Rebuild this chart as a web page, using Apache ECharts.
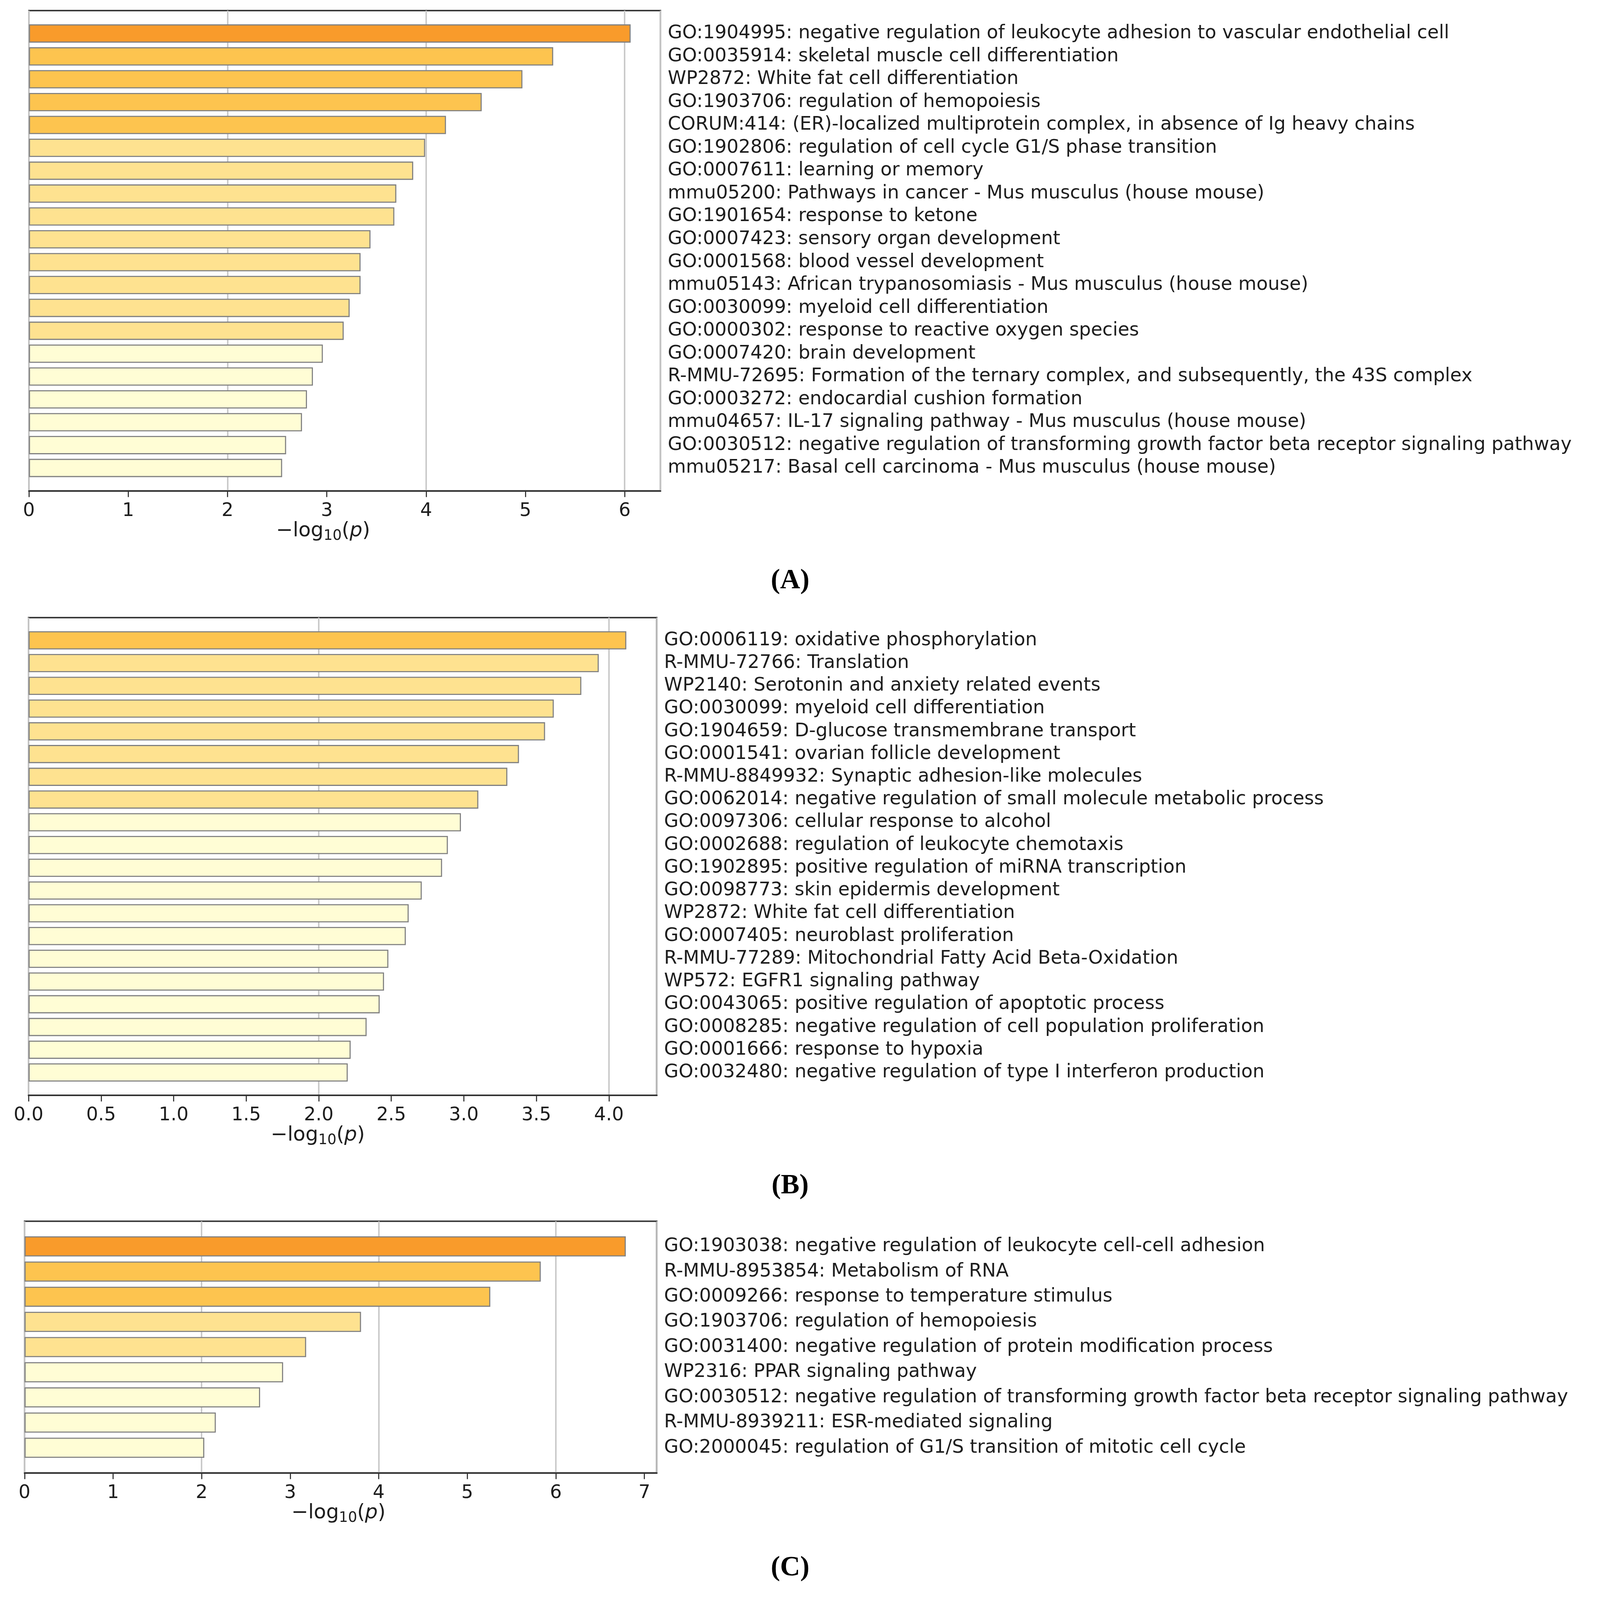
<!DOCTYPE html>
<html>
<head>
<meta charset="utf-8">
<style>
  html, body { margin: 0; padding: 0; background: #fff; overflow: hidden; }
  #main { width: 100vw; height: 100vh; }
</style>
</head>
<body>
<div id="main"></div>
<script src="https://cdn.jsdelivr.net/npm/echarts@6/dist/echarts.min.js"></script>
<script type="text/javascript">
    // panel A
    var labelsA = [
        'GO:1904995: negative regulation of leukocyte adhesion to vascular endothelial cell',
        'GO:0035914: skeletal muscle cell differentiation',
        'WP2872: White fat cell differentiation',
        'GO:1903706: regulation of hemopoiesis',
        'CORUM:414: (ER)-localized multiprotein complex, in absence of Ig heavy chains',
        'GO:1902806: regulation of cell cycle G1/S phase transition',
        'GO:0007611: learning or memory',
        'mmu05200: Pathways in cancer - Mus musculus (house mouse)',
        'GO:1901654: response to ketone',
        'GO:0007423: sensory organ development',
        'GO:0001568: blood vessel development',
        'mmu05143: African trypanosomiasis - Mus musculus (house mouse)',
        'GO:0030099: myeloid cell differentiation',
        'GO:0000302: response to reactive oxygen species',
        'GO:0007420: brain development',
        'R-MMU-72695: Formation of the ternary complex, and subsequently, the 43S complex',
        'GO:0003272: endocardial cushion formation',
        'mmu04657: IL-17 signaling pathway - Mus musculus (house mouse)',
        'GO:0030512: negative regulation of transforming growth factor beta receptor signaling pathway',
        'mmu05217: Basal cell carcinoma - Mus musculus (house mouse)'
    ];
    var valuesA = [6.06, 5.28, 4.97, 4.56, 4.20, 3.99, 3.87, 3.70, 3.68, 3.44,
                   3.34, 3.34, 3.23, 3.17, 2.96, 2.86, 2.80, 2.75, 2.59, 2.55];
    var ticksA = [0, 1, 2, 3, 4, 5, 6];

    // panel B
    var labelsB = [
        'GO:0006119: oxidative phosphorylation',
        'R-MMU-72766: Translation',
        'WP2140: Serotonin and anxiety related events',
        'GO:0030099: myeloid cell differentiation',
        'GO:1904659: D-glucose transmembrane transport',
        'GO:0001541: ovarian follicle development',
        'R-MMU-8849932: Synaptic adhesion-like molecules',
        'GO:0062014: negative regulation of small molecule metabolic process',
        'GO:0097306: cellular response to alcohol',
        'GO:0002688: regulation of leukocyte chemotaxis',
        'GO:1902895: positive regulation of miRNA transcription',
        'GO:0098773: skin epidermis development',
        'WP2872: White fat cell differentiation',
        'GO:0007405: neuroblast proliferation',
        'R-MMU-77289: Mitochondrial Fatty Acid Beta-Oxidation',
        'WP572: EGFR1 signaling pathway',
        'GO:0043065: positive regulation of apoptotic process',
        'GO:0008285: negative regulation of cell population proliferation',
        'GO:0001666: response to hypoxia',
        'GO:0032480: negative regulation of type I interferon production'
    ];
    var valuesB = [4.12, 3.93, 3.81, 3.62, 3.56, 3.38, 3.30, 3.10, 2.98, 2.89,
                   2.85, 2.71, 2.62, 2.60, 2.48, 2.45, 2.42, 2.33, 2.22, 2.20];
    var ticksB = [0, 0.5, 1, 1.5, 2, 2.5, 3, 3.5, 4];

    // panel C
    var labelsC = [
        'GO:1903038: negative regulation of leukocyte cell-cell adhesion',
        'R-MMU-8953854: Metabolism of RNA',
        'GO:0009266: response to temperature stimulus',
        'GO:1903706: regulation of hemopoiesis',
        'GO:0031400: negative regulation of protein modification process',
        'WP2316: PPAR signaling pathway',
        'GO:0030512: negative regulation of transforming growth factor beta receptor signaling pathway',
        'R-MMU-8939211: ESR-mediated signaling',
        'GO:2000045: regulation of G1/S transition of mitotic cell cycle'
    ];
    var valuesC = [6.79, 5.83, 5.26, 3.80, 3.18, 2.92, 2.66, 2.16, 2.03];
    var ticksC = [0, 1, 2, 3, 4, 5, 6, 7];

    var panelTags = ['(A)', '(B)', '(C)'];

    // metascape style colour bins on -log10(p)
    function binColor(v) {
        if (v >= 6) return '#F99B2B';
        if (v >= 4) return '#FDC44F';
        if (v >= 3) return '#FEE290';
        return '#FFFDD5';
    }

    // layout was measured on a 4342 x 4368 page; scale to whatever the viewport really is
    var k = Math.min(window.innerWidth / 4342, window.innerHeight / 4368);
    function px(v) { return v * k; }

    var FONT = 'DejaVu Sans';
    var INK = '#1e1e1e';

    var panels = [
        {labels: labelsA, values: valuesA, ticks: ticksA, max: 6.36, box: [79, 29, 1724, 1311], namePad: 118, dec: 0},
        {labels: labelsB, values: valuesB, ticks: ticksB, max: 4.33, box: [78, 1686, 1715, 1304], namePad: 136, dec: 1},
        {labels: labelsC, values: valuesC, ticks: ticksC, max: 7.14, box: [67, 3334, 1726, 687], namePad: 12, dec: 0}
    ];

    var grids = [], xAxes = [], yAxes = [], series = [];
    panels.forEach(function (p, i) {
        grids.push({
            left: px(p.box[0]), top: px(p.box[1]), width: px(p.box[2]), height: px(p.box[3]),
            show: true, borderColor: '#333', borderWidth: px(4), backgroundColor: '#fff'
        });
        // main axis: ticks and labels
        xAxes.push({
            gridIndex: i, type: 'value', min: 0, max: p.max, position: 'bottom',
            axisLine: {show: true, lineStyle: {color: '#333', width: px(4)}},
            axisTick: {show: true, customValues: p.ticks, length: px(17), lineStyle: {color: '#333', width: px(3)}},
            axisLabel: {
                customValues: p.ticks, margin: px(30), fontFamily: FONT, fontSize: px(51), color: INK,
                formatter: function (v) { return v.toFixed(p.dec); }
            },
            splitLine: {show: false},
            name: '{t|−log}{s|10}{t|(}{p|p}{t|)}',
            nameLocation: 'middle',
            nameGap: px(70),
            nameTextStyle: {
                padding: [0, px(p.namePad), 0, 0],
                rich: {
                    t: {fontFamily: FONT, fontSize: px(55), color: INK, lineHeight: px(66)},
                    s: {fontFamily: FONT, fontSize: px(39), color: INK, lineHeight: px(36), verticalAlign: 'bottom'},
                    p: {fontFamily: FONT, fontSize: px(55), fontStyle: 'italic', color: INK, lineHeight: px(66)}
                }
            }
        });
        yAxes.push({
            gridIndex: i, type: 'category', position: 'right', inverse: true, boundaryGap: false,
            data: [' '].concat(p.labels, ['  ']),
            axisLine: {show: false}, axisTick: {show: false}, splitLine: {show: false},
            axisLabel: {interval: 0, align: 'left', margin: px(20), fontFamily: FONT, fontSize: px(51), color: INK}
        });
    });
    // hidden companion axes, only for the grey gridlines every 2 units
    panels.forEach(function (p, i) {
        xAxes.push({
            gridIndex: i, type: 'value', min: 0, max: p.max, interval: 2, position: 'top',
            axisLine: {show: false}, axisTick: {show: false}, axisLabel: {show: false},
            splitLine: {show: true, lineStyle: {color: '#c8c8c8', width: px(4)}}
        });
    });
    panels.forEach(function (p, i) {
        series.push({
            type: 'bar', xAxisIndex: i, yAxisIndex: i,
            data: ['-'].concat(p.values, ['-']),
            barWidth: '80%',
            itemStyle: {
                borderColor: '#808080', borderWidth: px(3),
                color: function (d) { return binColor(d.value); }
            },
            silent: true
        });
    });

    var tagY = [1548, 3200, 4243];
    var titles = panelTags.map(function (t, i) {
        return {
            text: t, left: px(2157), top: px(tagY[i]), textAlign: 'center', padding: 0,
            textStyle: {fontFamily: 'Liberation Serif', fontWeight: 'bold', fontSize: px(76), color: '#000'}
        };
    });

    var chart = echarts.init(document.getElementById('main'));
    chart.setOption({
        backgroundColor: '#fff',
        animation: false,
        title: titles,
        grid: grids,
        xAxis: xAxes,
        yAxis: yAxes,
        series: series
    });
</script>
</body>
</html>
